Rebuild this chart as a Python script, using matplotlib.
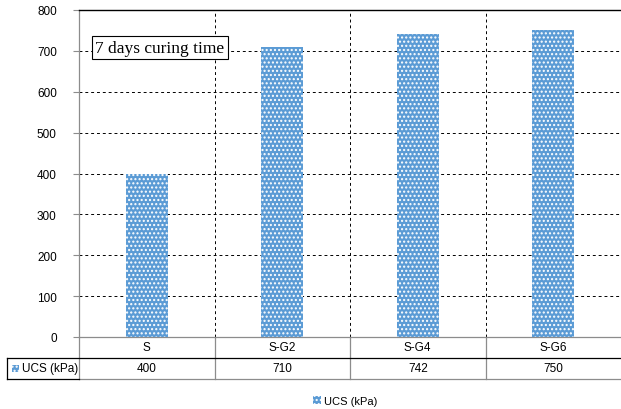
import matplotlib
matplotlib.use("Agg")
import matplotlib.pyplot as plt
from matplotlib.lines import Line2D
from matplotlib.patches import Rectangle
import matplotlib.transforms as mtransforms

categories = ["S", "S-G2", "S-G4", "S-G6"]
ucs_values = [400, 710, 742, 750]
series_name = "UCS (kPa)"
yticks = [0, 100, 200, 300, 400, 500, 600, 700, 800]
annotation = "7 days curing time"

W, H = 621, 410
plt.rcParams['hatch.color'] = 'white'
plt.rcParams['hatch.linewidth'] = 1.0
fig = plt.figure(figsize=(W / 100, H / 100), dpi=100)
fig.patch.set_facecolor('white')

def fx(x):
    return x / W

def fy(y):
    return 1 - y / H

left, right, top, bottom = 79, 621, 11, 338
ax = fig.add_axes([fx(left), fy(bottom), (right - left) / W, (bottom - top) / H])

blue = "#5B9BD5"
gray = "#8C8C8C"
fsz = 8.5
xs = list(range(len(categories)))
bars = ax.bar(xs, ucs_values, width=0.31, color=blue, edgecolor='white',
              linewidth=0, hatch='....', zorder=3, label=series_name)

ax.set_xlim(-0.5, len(categories) - 0.5)
ax.set_ylim(0, 800)
ax.set_yticks(yticks)
ax.set_yticklabels([str(v) for v in yticks], fontsize=fsz, family='Liberation Sans')
ax.tick_params(axis='y', length=4, width=0.8, color=gray, pad=12, direction='out')
ax.tick_params(axis='x', length=0, labelbottom=False)
ax.set_xticks([])

# grid
for v in yticks[1:-1]:
    ax.axhline(v, color='black', linestyle=(0, (3, 3)), linewidth=0.7, zorder=1)
for b in [0.5, 1.5, 2.5]:
    ax.axvline(b, color='black', linestyle=(0, (3, 3)), linewidth=0.7, zorder=1)

ax.spines['right'].set_visible(False)
ax.spines['top'].set_color('black')
ax.spines['top'].set_linewidth(1.0)
ax.spines['left'].set_color(gray)
ax.spines['bottom'].set_color(gray)
ax.spines['left'].set_linewidth(0.9)
ax.spines['bottom'].set_linewidth(0.9)

# annotation box
ax.text(0.03, 0.885, annotation, transform=ax.transAxes, fontsize=12.5,
        family='Liberation Serif', va='center', ha='left', zorder=5,
        bbox=dict(boxstyle='square,pad=0.2', facecolor='white', edgecolor='black', linewidth=0.8))

# data table
trans = mtransforms.blended_transform_factory(ax.transData, fig.transFigure)
row1_y, row2_top, row2_y, row2_bot = 348, 359, 369.5, 380
for i, c in enumerate(categories):
    ax.text(i, fy(row1_y), c, transform=trans, ha='center', va='center',
            fontsize=fsz, family='Liberation Sans', clip_on=False)
    ax.text(i, fy(row2_y), str(ucs_values[i]), transform=trans, ha='center', va='center',
            fontsize=fsz, family='Liberation Sans', clip_on=False)
for b in [0.5, 1.5, 2.5]:
    fig.add_artist(Line2D([b, b], [fy(bottom), fy(row2_bot)], transform=trans,
                          color=gray, linewidth=0.9))
tf = fig.transFigure
fig.add_artist(Line2D([fx(left), fx(left)], [fy(bottom), fy(row2_bot)], transform=tf, color=gray, linewidth=0.9))
fig.add_artist(Line2D([fx(7), fx(621)], [fy(row2_top), fy(row2_top)], transform=tf, color='black', linewidth=0.9))
fig.add_artist(Line2D([fx(79), fx(621)], [fy(row2_bot), fy(row2_bot)], transform=tf, color=gray, linewidth=0.9))
fig.add_artist(Line2D([fx(7), fx(79)], [fy(row2_bot), fy(row2_bot)], transform=tf, color='black', linewidth=0.9))
fig.add_artist(Line2D([fx(7), fx(7)], [fy(row2_top), fy(row2_bot)], transform=tf, color='black', linewidth=0.9))

# legend key in table
fig.add_artist(Rectangle((fx(12), fy(373)), 7 / W, 7 / H, transform=tf,
                         facecolor=blue, edgecolor='white', linewidth=0, hatch='....'))
fig.text(fx(22), fy(row2_y), series_name, ha='left', va='center', fontsize=fsz,
         family='Liberation Sans')

# bottom legend
fig.legend(handles=[bars], labels=[series_name], loc='center',
           bbox_to_anchor=(fx(345), fy(402)), frameon=False,
           prop={'family': 'Liberation Sans', 'size': 8}, handlelength=0.7,
           handleheight=0.7, handletextpad=0.3)

fig.savefig("out.png", dpi=100, facecolor='white')
